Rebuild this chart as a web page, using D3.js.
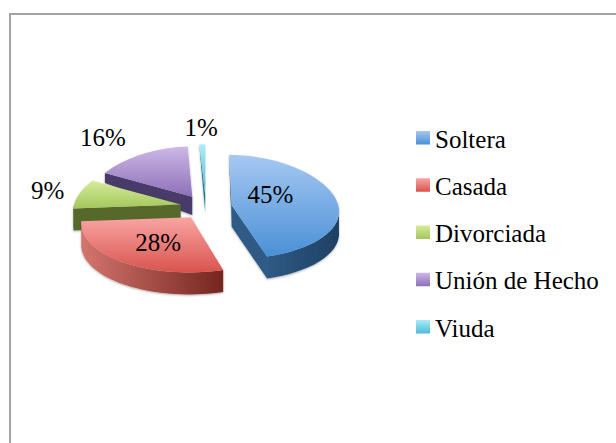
<!DOCTYPE html>
<html>
<head>
<meta charset="utf-8">
<script src="https://cdn.jsdelivr.net/npm/d3@7"></script>
<style>
  html, body { margin: 0; padding: 0; background: #fff; }
  text { font-family: "Liberation Serif", serif; fill: #000; }
</style>
</head>
<body>
<div id="chart"></div>
<script>
const categories = ['Soltera', 'Casada', 'Divorciada', 'Unión de Hecho', 'Viuda'];
const values = [45, 28, 9, 16, 1];

// colours per slice: top face light/dark, wall left/right
const topLight = ['#a6c8f2', '#f9a5a3', '#d7ec9a', '#cdb8e6', '#aaedf8'];
const topDark = ['#4a90d6', '#d9534e', '#a3c65c', '#8c70b8', '#4cbcd8'];
const wallLeft = ['#2f5a85', '#d4756f', '#56692c', '#4a3b69', '#1f7488'];
const wallRight = ['#1e4064', '#74261f', '#56692c', '#4a3b69', '#1f7488'];

const width = 616, height = 443;
const cx = 206, cy = 207, radius = 107, tilt = 0.47, explode = 26, depth = 22;

const svg = d3.select('#chart').append('svg')
  .attr('width', width).attr('height', height);

const defs = svg.append('defs');

// chart frame, only top and left fall inside the picture
svg.append('path')
  .attr('d', `M10,${height}V14H${width}`)
  .attr('fill', 'none').attr('stroke', '#a3a3a3').attr('stroke-width', 2);

const arcs = d3.pie().sort(null).value(d => d)(values);

// a = clockwise from 12 o'clock, r = distance from slice tip, same as d3.pie
function project(a, r, mid, down) {
  const u = Math.sin(mid) * explode + Math.sin(a) * r;
  const v = -Math.cos(mid) * explode - Math.cos(a) * r;
  const s = 1 + 0.1 * v / radius;
  const sy = 1 + 0.07 * Math.max(0, v) / radius;
  const d = down ? Math.min(depth, depth * (1 + 0.8 * v / radius)) : 0;
  return [cx + u * s, cy + v * tilt * sy + d];
}

const line = d3.line().curve(d3.curveLinearClosed);

defs.append('filter').attr('id', 'soft')
  .attr('x', '-10%').attr('y', '-10%').attr('width', '120%').attr('height', '120%')
  .append('feDropShadow')
  .attr('dx', 0).attr('dy', 1).attr('stdDeviation', 1.2)
  .attr('flood-color', '#000').attr('flood-opacity', 0.3);

arcs.forEach((d, i) => {
  const top = defs.append('linearGradient').attr('id', 'top' + i)
    .attr('x1', 0).attr('y1', 0).attr('x2', 0).attr('y2', 1);
  top.append('stop').attr('offset', '0%').attr('stop-color', topLight[i]);
  top.append('stop').attr('offset', '100%').attr('stop-color', topDark[i]);
  const wall = defs.append('linearGradient').attr('id', 'wall' + i)
    .attr('x1', 0).attr('y1', 0).attr('x2', 1).attr('y2', 0);
  wall.append('stop').attr('offset', '0%').attr('stop-color', wallLeft[i]);
  wall.append('stop').attr('offset', '100%').attr('stop-color', wallRight[i]);
});

// back slices first, red sits in front of green and purple
const order = [4, 3, 2, 0, 1];

order.forEach(i => {
  const d = arcs[i];
  const mid = (d.startAngle + d.endAngle) / 2;
  const g = svg.append('g').attr('filter', 'url(#soft)');
  const rim = d3.range(0, 41).map(k => d.startAngle + (d.endAngle - d.startAngle) * k / 40);

  // straight cut faces, drawn when they turn toward the viewer
  [d.startAngle, d.endAngle].forEach((a, k) => {
    const pts = [
      project(a, 0, mid, false), project(a, radius, mid, false),
      project(a, radius, mid, true), project(a, 0, mid, true)
    ];
    const area = d3.polygonArea(pts);
    if ((k === 0 && area > 0) || (k === 1 && area < 0)) {
      g.append('path').attr('d', line(pts)).attr('fill', wallLeft[i]);
    }
  });

  // outer wall, only the front half of the rim
  const front = rim.filter(a => Math.cos(a) < 0);
  if (front.length > 1) {
    const pts = front.map(a => project(a, radius, mid, false))
      .concat(front.slice().reverse().map(a => project(a, radius, mid, true)));
    g.append('path').attr('d', line(pts)).attr('fill', `url(#wall${i})`);
  }

  // top face
  const face = [project(0, 0, mid, false)].concat(rim.map(a => project(a, radius, mid, false)));
  g.append('path').attr('d', line(face)).attr('fill', `url(#top${i})`);
});

// percent labels: fraction of radius along the slice middle, then a small lift
const labelFrac = [0.37, 0.5, 1.32, 1.94, 1.53];
const labelLift = [8, -3, 0, -23, -10];

arcs.forEach((d, i) => {
  const mid = (d.startAngle + d.endAngle) / 2;
  const p = project(mid, radius * labelFrac[i], mid, false);
  svg.append('text')
    .attr('x', p[0]).attr('y', p[1] - labelLift[i])
    .attr('text-anchor', 'middle').attr('dominant-baseline', 'central')
    .attr('font-size', 25)
    .text(values[i] + '%');
});

// legend
const legendY = d3.scalePoint().domain(categories).range([140, 329]);

const legend = svg.selectAll('.legend').data(categories).enter()
  .append('g').attr('class', 'legend')
  .attr('transform', d => `translate(416,${legendY(d)})`);

legend.append('rect')
  .attr('y', -9).attr('width', 14).attr('height', 13.5)
  .attr('fill', (d, i) => `url(#top${i})`);

legend.append('text')
  .attr('x', 19).attr('y', -1)
  .attr('dominant-baseline', 'central')
  .attr('font-size', 25)
  .text(d => d);
</script>
</body>
</html>
